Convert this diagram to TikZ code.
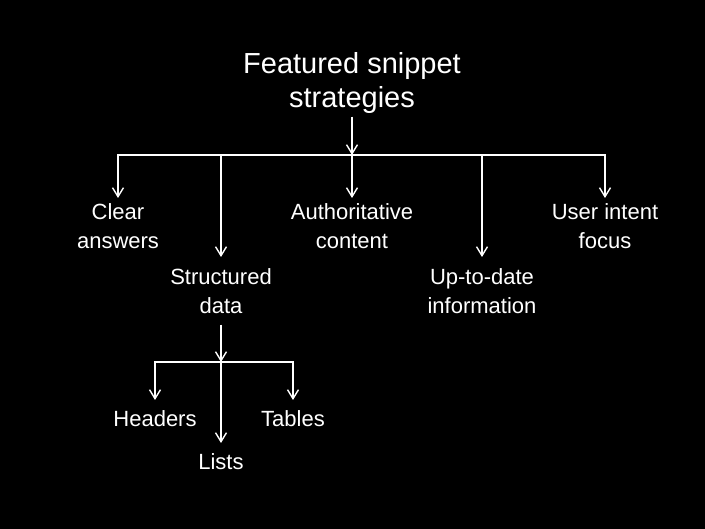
\documentclass[tikz,border=0pt]{standalone}
\usepackage{fontspec}
\setmainfont{Liberation Sans}
\usetikzlibrary{arrows.meta}
\definecolor{board}{HTML}{000000}
\definecolor{chalk}{HTML}{FFFFFF}
\tikzset{
  every node/.style = {text=chalk},
  fstitle/.style = {align=center, inner sep=3pt, font=\fontsize{29}{34}\selectfont},
  fslabel/.style = {align=center, inner sep=5pt, anchor=north, font=\fontsize{22}{29}\selectfont},
  fsgo/.style    = {-{Straight Barb[length=9pt,width=11pt]}, draw=chalk, line width=1.4pt},
}
\begin{document}
\begin{tikzpicture}[x=1pt, y=-1pt]
\fill[board] (0,0) rectangle (705,529);
\useasboundingbox (0,0) rectangle (705,529);

\node[fstitle] (title) at (352,83) {Featured snippet\\strategies};
\coordinate (top) at (352,155);

\node[fslabel] (clear)  at (118,198) {Clear\\answers};
\node[fslabel, inner ysep=11pt] (struct) at (221,257) {Structured\\data};
\node[fslabel] (auth)   at (352,198) {Authoritative\\content};
\node[fslabel, inner ysep=11pt] (fresh)  at (482,257) {Up-to-date\\information};
\node[fslabel] (intent) at (605,198) {User intent\\focus};

\coordinate (sub) at (221,362);
\node[fslabel, inner sep=10pt] (head)  at (155,400) {Headers};
\node[fslabel, inner sep=10pt] (lists) at (221,443) {Lists};
\node[fslabel, inner sep=10pt] (tabs)  at (293,400) {Tables};

\draw[fsgo] (title.south) -- (top);
\foreach \t in {clear,struct,auth,fresh,intent}{\draw[fsgo] (top) -| (\t.north);}
\draw[fsgo] (struct.south) -- (sub);
\foreach \t in {head,lists,tabs}{\draw[fsgo] (sub) -| (\t.north);}
\end{tikzpicture}
\end{document}
